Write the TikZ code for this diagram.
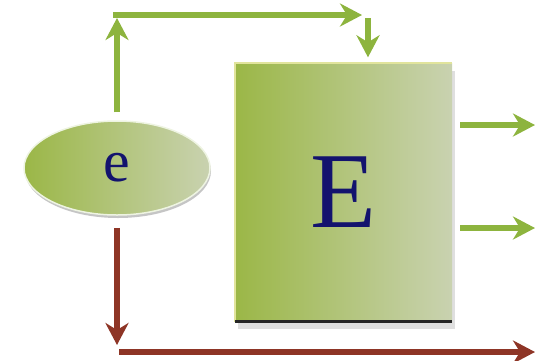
\documentclass[tikz,border=0pt]{standalone}
\usepackage{fontspec}
\setmainfont{Liberation Serif}
\usetikzlibrary{arrows.meta,shapes.geometric,shadows}
\definecolor{leafgreen}{HTML}{8DB43E}
\definecolor{boxleft}{HTML}{9BB747}
\definecolor{boxright}{HTML}{C9D2B0}
\definecolor{rust}{HTML}{8E3526}
\definecolor{inkblue}{HTML}{13136E}
\tikzset{
    flow/.style={line width=6pt,leafgreen,-{Stealth[length=22pt,width=23pt,inset=7pt]}},
    loss/.style={flow,rust},
    blob/.style={ellipse,inner sep=0,minimum width=186pt,minimum height=94pt,
        left color=boxleft,right color=boxright,draw=white!85!leafgreen,line width=1.5pt,
        drop shadow={shadow xshift=1pt,shadow yshift=-3pt,opacity=.5,fill=gray!90}},
    block/.style={rectangle,inner sep=0,minimum width=217pt,minimum height=258pt,
        left color=boxleft,right color=boxright,
        drop shadow={shadow xshift=3pt,shadow yshift=-7pt,opacity=.25,fill=gray}},
}
\begin{document}
\begin{tikzpicture}[x=1pt,y=-1pt]
    \useasboundingbox (0,0) rectangle (543,360);
    \node[blob] (e) at (117,168) {\fontsize{60}{60}\selectfont\color{inkblue}e};
    \node[block] (E) at (343.5,192.5) {\fontsize{108}{108}\selectfont\color{inkblue}E};
    % bevel edges of the block
    \draw[line width=2pt,yellow!40!leafgreen!50!white] (E.south west) -- (E.north west) -- (E.north east);
    \draw[line width=3pt,black!85] (E.south west) -- (E.south east);
    % coordinates
    \coordinate (top) at (117,18);
    \coordinate (turn) at (362,15);
    \coordinate (low) at (117,345);
    \coordinate (end) at (535,352);
    % gains
    \draw[flow,shorten <=8pt] (e.north) -- (top);
    \draw[flow] (113,15) -- (turn);
    \draw[flow,shorten >=6pt] (368,18) -- (E.north -| 368,0);
    \foreach \y/\name in {125/o1,228/o2} {
        \coordinate (\name) at (535,\y);
        \draw[flow,shorten <=8pt] (E.east |- \name) -- (\name);
    }
    % losses
    \draw[loss,shorten <=12pt] (e.south) -- (low);
    \draw[loss] (119,352) -- (end);
\end{tikzpicture}
\end{document}
